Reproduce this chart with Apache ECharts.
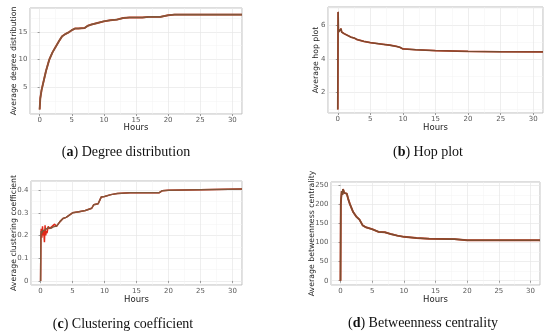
<!DOCTYPE html>
<html><head><meta charset="utf-8">
<script src="https://cdn.jsdelivr.net/npm/echarts@6/dist/echarts.min.js"></script>
<style>html,body{margin:0;padding:0;background:#fff}#c{width:550px;height:336px}</style>
</head><body><div id="c"></div>
<script>
// (a) Average degree distribution
const degHours = [0,0.1,0.3,0.5,0.7,1,1.5,2,2.5,3,3.5,4,4.5,5,5.5,6,7,7.5,8,9,10,11,12,13,14,15,16,17,18,18.8,19,20,21,25,31.5];
const degValues = [1.0,3.0,4.5,5.5,6.5,8.0,10.0,11.3,12.3,13.3,14.2,14.6,14.9,15.3,15.6,15.6,15.7,16.1,16.3,16.6,16.9,17.1,17.2,17.5,17.6,17.6,17.6,17.7,17.7,17.7,17.85,18.0,18.1,18.1,18.1];
// (b) Average hop plot
const hopHours = [0,0.05,0.1,0.2,0.3,0.5,0.6,0.8,1,2,2.5,3,4,5,6,7,8,9,9.5,10,12,15,20,25,31.5];
const hopValues = [1.0,6.8,5.6,5.7,5.6,5.8,5.6,5.5,5.5,5.3,5.25,5.15,5.05,4.97,4.92,4.87,4.82,4.75,4.7,4.6,4.55,4.5,4.45,4.43,4.42];
// (c) Average clustering coefficient: raw (red) and smoothed (dark)
const ccHours = [0,0.05,0.1,0.2,0.3,0.4,0.5,0.6,0.7,0.8,0.9,1,1.2,1.4,1.6,1.8,2,2.2,2.5,3,3.5,4,4.5,5,6,7,8,8.3,9,9.3,9.5,10,11,12,14,18.5,19,20,25,31.5];
const ccRaw = [0,0.2,0.23,0.19,0.24,0.2,0.22,0.17,0.245,0.2,0.22,0.21,0.24,0.23,0.23,0.24,0.235,0.25,0.24,0.26,0.275,0.28,0.29,0.30,0.305,0.31,0.32,0.335,0.34,0.345,0.37,0.372,0.38,0.385,0.388,0.388,0.397,0.399,0.402,0.405];
const ccSmooth = [0,0.2,0.22,0.21,0.22,0.215,0.22,0.22,0.225,0.225,0.225,0.225,0.235,0.23,0.232,0.238,0.238,0.245,0.242,0.26,0.275,0.28,0.29,0.30,0.305,0.31,0.32,0.335,0.34,0.345,0.37,0.372,0.38,0.385,0.388,0.388,0.397,0.399,0.402,0.405];
// (d) Average betweenness centrality
const btHours = [0,0.05,0.1,0.2,0.3,0.4,0.5,0.6,0.8,1,1.2,1.5,2,2.5,3,3.5,4,5,6,7,8,9,10,12,14,18,20,25,31.5];
const btValues = [0,200,215,235,225,240,245,230,225,228,215,200,180,168,160,145,140,135,128,127,122,118,115,112,110,109,106,106,106];

const captions = [
  {k:'a', t:'Degree distribution', x:126, y:151},
  {k:'b', t:'Hop plot', x:428, y:151},
  {k:'c', t:'Clustering coefficient', x:123, y:323},
  {k:'d', t:'Betweenness centrality', x:423, y:322}
];
const yNames = ['Average degree distribution','Average hop plot','Average clustering coefficient','Average betweenness centrality'];

const grids = [
  {left:30, top:8, width:212, height:106},
  {left:328, top:7, width:215, height:106},
  {left:31, top:181, width:211, height:104},
  {left:331, top:182, width:209, height:103}
];
const yRanges = [[0.2,19.3],[0.79,7.09],[-0.018,0.44],[-11.3,258.7]];
const ySplit = [4,3,4,5];
const yGaps = [12.5,8.5,13,15.5];
const xGaps = [9.5,10,10,10];

function zip(a,b){return a.map((v,i)=>[v,b[i]]);}

const chart = echarts.init(document.getElementById('c'), null, {renderer:'canvas'});
const tickStyle = {color:'#5a5a5a', fontSize:7, fontFamily:'DejaVu Sans'};
const xAxes = grids.map((g,i)=>({
  type:'value', gridIndex:i, min:-1.5, max:31.5, splitNumber:7,
  name:'Hours', nameLocation:'middle', nameGap:xGaps[i], nameMoveOverlap:false,
  nameTextStyle:{color:'#222', fontSize:8.5, fontFamily:'DejaVu Sans'},
  axisLine:{show:false},
  axisTick:{show:true, length:2, lineStyle:{color:'#999'}},
  axisLabel:Object.assign({margin:3, showMinLabel:false, showMaxLabel:false}, tickStyle),
  splitLine:{show:true, lineStyle:{color:'#e6e6e6', width:0.7}},
  minorTick:{show:false, splitNumber:2},
  minorSplitLine:{show:true, lineStyle:{color:'#f2f2f2', width:0.5}}
}));
const yAxes = grids.map((g,i)=>({
  type:'value', gridIndex:i, min:yRanges[i][0], max:yRanges[i][1], splitNumber:ySplit[i],
  name:yNames[i], nameLocation:'middle', nameGap:yGaps[i], nameMoveOverlap:false,
  nameTextStyle:{color:'#222', fontSize:7.8, fontFamily:'DejaVu Sans'},
  axisLine:{show:false},
  axisTick:{show:true, length:2, lineStyle:{color:'#999'}},
  axisLabel:Object.assign({margin:2.5, showMinLabel:false, showMaxLabel:false}, tickStyle),
  splitLine:{show:true, lineStyle:{color:'#e6e6e6', width:0.7}},
  minorTick:{show:false, splitNumber:2},
  minorSplitLine:{show:true, lineStyle:{color:'#f2f2f2', width:0.5}}
}));
const lineBase = {type:'line', showSymbol:false, symbol:'none', animation:false};
const series = [
  Object.assign({}, lineBase, {xAxisIndex:0, yAxisIndex:0, data:zip(degHours,degValues), lineStyle:{color:'#c83a20', width:1.9}}),
  Object.assign({}, lineBase, {xAxisIndex:0, yAxisIndex:0, data:zip(degHours,degValues), lineStyle:{color:'#84563a', width:1.6}}),
  Object.assign({}, lineBase, {xAxisIndex:1, yAxisIndex:1, data:zip(hopHours,hopValues), lineStyle:{color:'#c83a20', width:1.7}}),
  Object.assign({}, lineBase, {xAxisIndex:1, yAxisIndex:1, data:zip(hopHours,hopValues), lineStyle:{color:'#7a4a30', width:1.4}}),
  Object.assign({}, lineBase, {xAxisIndex:2, yAxisIndex:2, data:zip(ccHours,ccRaw), lineStyle:{color:'#e02818', width:1.5}}),
  Object.assign({}, lineBase, {xAxisIndex:2, yAxisIndex:2, data:zip(ccHours,ccSmooth), lineStyle:{color:'#84563a', width:1.5}}),
  Object.assign({}, lineBase, {xAxisIndex:3, yAxisIndex:3, data:zip(btHours,btValues), lineStyle:{color:'#c83a20', width:1.9}}),
  Object.assign({}, lineBase, {xAxisIndex:3, yAxisIndex:3, data:zip(btHours,btValues), lineStyle:{color:'#7e4c30', width:1.6}})
];
const titles = captions.map(c=>({
  text:'{p|(}{b|'+c.k+'}{p|) '+c.t+'}', left:c.x, top:c.y-6, textAlign:'center', padding:0,
  textStyle:{fontWeight:'normal', rich:{p:{fontFamily:'Liberation Serif', fontSize:14, fontWeight:'normal', color:'#111'}, b:{fontFamily:'Liberation Serif', fontSize:14, fontWeight:'bold', color:'#111'}}}
}));
chart.setOption({
  animation:false,
  title:titles,
  grid:grids.map(g=>Object.assign({show:true, borderColor:'#bdbdbd', borderWidth:1, backgroundColor:'#fff', containLabel:false}, g)),
  xAxis:xAxes, yAxis:yAxes, series:series
});
</script></body></html>
